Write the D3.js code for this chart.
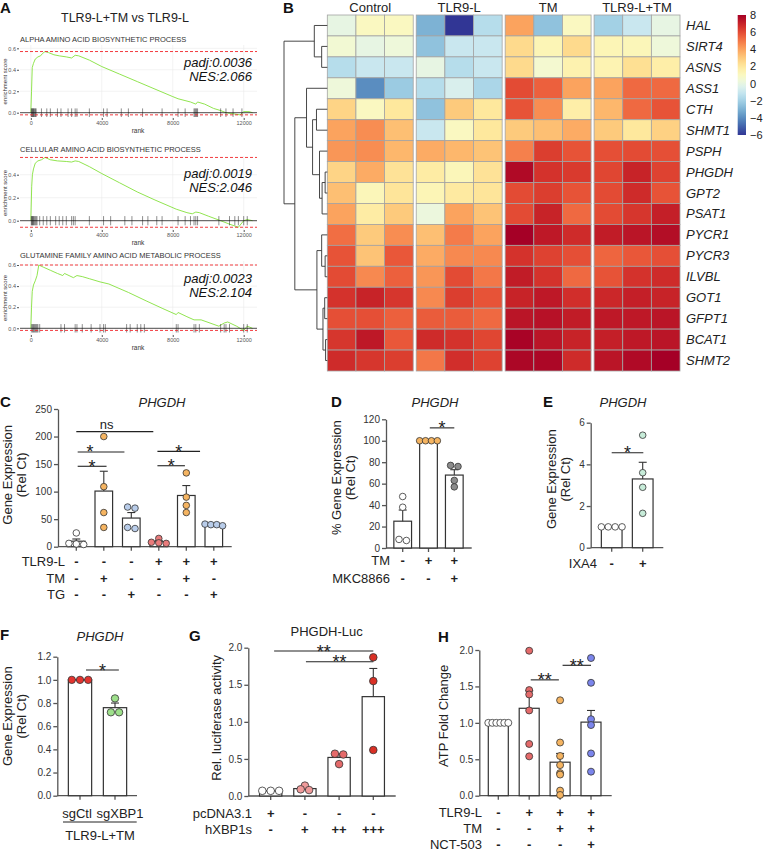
<!DOCTYPE html>
<html>
<head>
<meta charset="utf-8">
<script src="https://cdn.jsdelivr.net/npm/d3@7"></script>
<style>
  body { margin: 0; background: #fff; }
  svg { font-family: "Liberation Sans", Arial, sans-serif; }
</style>
</head>
<body>
<svg id="fig" width="763" height="853"></svg>
<script>
var FONT = "Liberation Sans, Arial, sans-serif"

// ---------- A: GSEA data ----------
var gseaTitles = ["ALPHA AMINO ACID BIOSYNTHETIC PROCESS", "CELLULAR AMINO ACID BIOSYNTHETIC PROCESS", "GLUTAMINE FAMILY AMINO ACID METABOLIC PROCESS"]
var gseaPadj = ["padj:0.0036", "padj:0.0019", "padj:0.0023"]
var gseaNES = ["NES:2.066", "NES:2.046", "NES:2.104"]
var rankTicks = [0, 4000, 8000, 12000]
var esTicks = [0, 0.2, 0.4, 0.6]

var esCurve1 = [[0,0],[40,0.2],[80,0.42],[150,0.46],[250,0.5],[400,0.52],[550,0.53],[650,0.55],[800,0.57],[1000,0.56],[1300,0.54],[1600,0.53],[2000,0.52],[2300,0.51],[2500,0.535],[2700,0.53],[3300,0.49],[4000,0.43],[5000,0.36],[6000,0.29],[7000,0.22],[8000,0.15],[8300,0.13],[9000,0.1],[9300,0.08],[9400,0.1],[9800,0.08],[10300,0.04],[10700,0.02],[11000,0.0],[11400,-0.01],[11800,-0.02],[12000,0.01],[12300,0.01],[12500,0]]
var esCurve2 = [[0,0],[50,0.3],[90,0.4],[150,0.45],[250,0.5],[400,0.52],[600,0.53],[800,0.55],[1100,0.53],[1500,0.52],[2000,0.515],[2300,0.51],[2500,0.52],[2700,0.515],[3300,0.47],[4000,0.41],[5000,0.33],[6000,0.25],[7000,0.18],[8200,0.1],[8800,0.07],[9100,0.06],[9300,0.075],[9500,0.07],[10000,0.04],[10700,0.0],[11200,-0.03],[11700,-0.057],[12000,0.0],[12200,0.01],[12500,0]]
var esCurve3 = [[0,0],[40,0.2],[80,0.35],[150,0.41],[250,0.45],[350,0.5],[450,0.6],[700,0.58],[1100,0.55],[1500,0.52],[1800,0.5],[1900,0.52],[2400,0.48],[2600,0.5],[2900,0.49],[3300,0.47],[3900,0.44],[4400,0.42],[5500,0.34],[6500,0.26],[7400,0.19],[8200,0.13],[8300,0.15],[8800,0.11],[9200,0.08],[9600,0.08],[10100,0.05],[10600,0.02],[10900,0.05],[11100,0.06],[11600,0.02],[12000,-0.02],[12200,0.02],[12500,0]]

var hits1 = [30,60,90,120,150,180,220,260,300,600,900,1100,1500,1700,2100,2300,2500,2600,3300,4100,4300,5100,5500,6300,7400,8300,8700,9200,9250,9300,9350,9400,10700,11000,11400,11900]
var hits2 = [30,60,90,120,150,200,250,300,350,500,700,900,1100,1400,1600,1800,2000,2300,2400,2500,3300,4100,4500,5300,5700,6300,6600,7100,7400,8300,8700,9000,9200,9300,9400,10600,11200,11500,11700,12000,12200]
var hits3 = [50,100,150,200,250,300,350,400,500,1700,1900,2500,2600,2900,3400,3900,4100,4200,5400,5600,6000,6200,6400,8200,8300,9200,9300,9500,10700,10900,11000,11200,12000,12200]

// ---------- B: heatmap data ----------
var groups = ["Control", "TLR9-L", "TM", "TLR9-L+TM"]
var genes = ["HAL","SIRT4","ASNS","ASS1","CTH","SHMT1","PSPH","PHGDH","GPT2","PSAT1","PYCR1","PYCR3","ILVBL","GOT1","GFPT1","BCAT1","SHMT2"]
var heatValues = [
  [0, 1, 1,   -3, -6, -1.5,   4, -2.5, 1,   -2, -1, 0],
  [0.5, 0, 0.3,   -2.5, -1, -1,   2.5, 1.3, 2.5,   1.3, 1.2, 0.3],
  [-1.5, -1, -1,   0, -1.5, -1,   2.5, 0.6, 1.5,   1.4, 2.3, 1.7],
  [0.3, -4, -2.2,   -1.5, -0.5, -1.8,   6, 5.5, 4,   4, 5.3, 5.3],
  [2.7, 1, 2,   -2.5, 3, 2,   5.8, 4.5, 1.7,   3.5, 5.3, 5.8],
  [4, 4.5, 3.3,   -1, 1, 2,   3, 3.3, 3.8,   3, 2, 2.8],
  [4.3, 4.5, 3.5,   3.8, 3.5, 3.2,   4.8, 6.3, 5.8,   5.9, 6, 5.9],
  [2.7, 3.8, 2.2,   1.8, 1.2, 2.2,   7.7, 6.6, 6.4,   6.1, 7, 6.2],
  [3.3, 1.2, 2.1,   1.3, 1.9, 2.1,   6, 6.3, 5.8,   6, 6.8, 5.8],
  [4, 1.8, 3,   0.2, 4, 3.2,   6, 7, 5.3,   6, 6.5, 7.1],
  [5.2, 3, 4.5,   3.3, 4.9, 4,   8, 7.3, 6.8,   7.2, 7.4, 7.6],
  [5.8, 3.2, 5.7,   3.8, 4.6, 4.6,   6.6, 6.2, 5.9,   5.4, 5.7, 5.9],
  [6, 4.6, 5.5,   4.3, 6, 5,   7.2, 6.6, 5.3,   5.8, 6.6, 6.8],
  [6.6, 7, 6.5,   4.6, 6.3, 5.8,   7, 7.3, 6.7,   6.9, 7.1, 7],
  [5.9, 5.9, 5.5,   5.6, 5.6, 5.3,   7.4, 7.5, 7.2,   7.3, 7.3, 7.4],
  [6.5, 7.3, 5.7,   6.8, 6.6, 6.1,   7.9, 7.4, 7,   7.1, 7.3, 7.4],
  [6.8, 6.5, 6.3,   5, 6.7, 6.2,   7.8, 7.8, 6.8,   7.4, 7.7, 8]
]
var colorTicks = [8, 6, 4, 2, 0, -2, -4, -6]
// row dendrogram: [height, left, right], leaves are gene names
var dendro = [10,
  [3.0, "HAL", [1.3, "SIRT4", "ASNS"]],
  [7.5,
    [4.8, "ASS1", [3.4, [2.5, "CTH", "SHMT1"], [1.8, "PSPH", [1.2, [0.5, "PHGDH", "GPT2"], "PSAT1"]]]],
    [2.4, [1.3, "PYCR1", [0.5, "PYCR3", "ILVBL"]], [1.0, [0.6, "GOT1", "GFPT1"], [0.4, "BCAT1", "SHMT2"]]]
  ]
]

// ---------- C ----------
var cMeans = [10, 101, 52, 9, 93, 39]
var cSem = [4, 36, 10, 2, 18, 1.5]
var cPoints = [[25,6,5,4],[200,109,62,35],[72,70,35,33],[15,8,7,6],[134,90,75,62],[41,40,40,38]]
var cColors = ["#ffffff","#f5b461","#b9cdea","#e97b7b","#f5b461","#b9cdea"]
var cRows = ["TLR9-L","TM","TG"]
var cSigns = [["-","-","-","+","+","+"],["-","+","-","-","+","-"],["-","-","+","-","-","+"]]
var cSig = [[0,2.8,209,"ns",1.1],[0.05,1.75,172,"*",0.5],[0.05,1.1,146,"*"],[2.95,4.5,173,"*"],[2.95,3.95,147,"*"]]
var cTicks = [0,50,100,150,200,250]

// ---------- D ----------
var dMeans = [25, 100, 68]
var dSem = [10.4, 0, 5]
var dPoints = [[48,38,8,7],[100,100,100,100],[77,76,63,57]]
var dColors = ["#ffffff","#f5b461","#8c8c8c"]
var dRows = ["TM","MKC8866"]
var dSigns = [["-","+","+"],["-","-","+"]]
var dSig = [[1.05,2,112,"*"]]
var dTicks = [0,20,40,60,80,100,120]

// ---------- E ----------
var eMeans = [1, 3.3]
var eSem = [0, 0.8]
var ePoints = [[1,1,1,1],[5.4,3.6,2.9,1.65]]
var eColors = ["#ffffff","#c7ecd9"]
var eRows = ["IXA4"]
var eSigns = [["-","+"]]
var eSig = [[0,1.02,4.56,"*"]]
var eTicks = [0,2,4,6]

// ---------- F ----------
var fMeans = [1, 0.76]
var fSem = [0, 0.04]
var fPoints = [[1,1,1],[0.84,0.72,0.72]]
var fColors = ["#e3342f","#9ee08b"]
var fLabels = ["sgCtl","sgXBP1"]
var fGroup = "TLR9-L+TM"
var fSig = [[0.17,1.11,1.085,"*"]]
var fTicks = [0,0.2,0.4,0.6,0.8,1.0,1.2]

// ---------- G ----------
var gMeans = [0.07, 0.10, 0.52, 1.34]
var gSem = [0.005, 0.015, 0.05, 0.38]
var gPoints = [[0.07,0.07,0.07],[0.14,0.09,0.08],[0.57,0.56,0.43],[1.87,1.55,0.62]]
var gColors = ["#ffffff","#f09a9a","#e46a6a","#d93025"]
var gRows = ["pcDNA3.1","hXBP1s"]
var gSigns = [["+","-","-","-"],["-","+","++","+++"]]
var gSig = [[0.1,3,1.955,"**"],[1.03,3,1.81,"**"]]
var gTicks = [0,0.5,1.0,1.5,2.0]

// ---------- H ----------
var hMeans = [1, 1.2, 0.46, 1.01]
var hSem = [0, 0.24, 0.12, 0.16]
var hPoints = [[1,1,1,1,1,1],[1.99,1.45,1.39,1.17,0.71,0.54],[1.31,0.73,0.545,0.42,0.31,0.29,0.07,0.01],[1.89,1.55,1.05,0.97,0.58,0.33]]
var hColors = ["#ffffff","#e46a6a","#f5b461","#7b85ec"]
var hRows = ["TLR9-L","TM","NCT-503"]
var hSigns = [["-","+","+","+"],["-","-","+","+"],["-","-","-","+"]]
var hSig = [[1.05,1.96,1.59,"**"],[2.08,3,1.79,"**"]]
var hTicks = [0,0.5,1.0,1.5,2.0]

var svg = d3.select("#fig")

function letter(t, x, y){
  svg.append("text").attr("x", x).attr("y", y).attr("font-size", 15).attr("font-weight", "bold").attr("fill", "#111").text(t)
}

// ================= Panel A =================
letter("A", 0, 13)
svg.append("text").attr("x", 125).attr("y", 22).attr("text-anchor", "middle").attr("font-size", 12.5).attr("fill", "#222").text("TLR9-L+TM vs TLR9-L")

var gseaBoxes = [
  {top: 45, bottom: 118, zero: 112.7, ppu: 107.3, titleY: 42},
  {top: 156, bottom: 230, zero: 220.7, ppu: 115, titleY: 152},
  {top: 261, bottom: 335, zero: 328.3, ppu: 105.5, titleY: 258}
]
var gseaCurves = [esCurve1, esCurve2, esCurve3]
var gseaHits = [hits1, hits2, hits3]

gseaBoxes.forEach(function(box, i){
  var curve = gseaCurves[i]
  var x = d3.scaleLinear().domain([-610, 12750]).range([20, 257])
  var y = d3.scaleLinear().domain([0, 1]).range([box.zero, box.zero - box.ppu])
  var g = svg.append("g")
  var yt = esTicks.filter(v => y(v) >= box.top - 0.5)

  g.selectAll(".gx").data(rankTicks).enter().append("line")
    .attr("x1", d => x(d)).attr("x2", d => x(d)).attr("y1", box.top).attr("y2", box.bottom)
    .attr("stroke", "#ebebeb").attr("stroke-width", 0.6)
  g.selectAll(".gy").data(yt).enter().append("line")
    .attr("x1", 20).attr("x2", 257).attr("y1", d => y(d)).attr("y2", d => y(d))
    .attr("stroke", "#ebebeb").attr("stroke-width", 0.6)

  g.append("path").datum(curve)
    .attr("d", d3.line().x(d => x(d[0])).y(d => y(d[1])))
    .attr("fill", "none").attr("stroke", "#84e13c").attr("stroke-width", 0.9)

  g.append("line").attr("x1", 20).attr("x2", 257).attr("y1", y(0)).attr("y2", y(0))
    .attr("stroke", "#222").attr("stroke-width", 0.8)
  g.selectAll(".hit").data(gseaHits[i]).enter().append("line")
    .attr("x1", d => x(d)).attr("x2", d => x(d)).attr("y1", y(0.04)).attr("y2", y(-0.04))
    .attr("stroke", "#111").attr("stroke-width", 0.6).attr("stroke-opacity", 0.8)
  var esMax = d3.max(curve, d => d[1]), esMin = d3.min(curve, d => d[1])
  g.selectAll(".red").data([esMax, esMin]).enter().append("line")
    .attr("x1", 20).attr("x2", 257).attr("y1", d => y(d)).attr("y2", d => y(d))
    .attr("stroke", "#f0262a").attr("stroke-width", 0.9).attr("stroke-dasharray", "3,2")

  var ay = g.append("g").attr("transform", "translate(19,0)")
    .call(d3.axisLeft(y).tickValues(yt).tickFormat(d3.format(".1f")).tickSize(2).tickPadding(1))
  var ax = g.append("g").attr("transform", "translate(0," + box.bottom + ")")
    .call(d3.axisBottom(x).tickValues(rankTicks).tickFormat(d3.format("d")).tickSize(2).tickPadding(1))
  ;[ay, ax].forEach(function(a){
    a.select(".domain").remove()
    a.attr("font-family", FONT).attr("font-size", 5.5)
    a.selectAll("line").attr("stroke", "#555")
    a.selectAll("text").attr("fill", "#555")
  })
  g.append("text").attr("x", 138).attr("y", box.bottom + 15).attr("text-anchor", "middle")
    .attr("font-size", 6.5).attr("fill", "#333").text("rank")
  g.append("text").attr("transform", "translate(7," + ((box.top + box.bottom) / 2) + ") rotate(-90)")
    .attr("text-anchor", "middle").attr("font-size", 6).attr("fill", "#333").text("enrichment score")
  g.append("text").attr("x", 20).attr("y", box.titleY).attr("font-size", 7.5).attr("fill", "#333").text(gseaTitles[i])
  g.append("text").attr("x", 252).attr("y", box.top + 22).attr("text-anchor", "end")
    .attr("font-size", 13).attr("font-style", "italic").attr("fill", "#111").text(gseaPadj[i])
  g.append("text").attr("x", 252).attr("y", box.top + 36).attr("text-anchor", "end")
    .attr("font-size", 13).attr("font-style", "italic").attr("fill", "#111").text(gseaNES[i])
})

// ================= Panel B =================
letter("B", 283, 13)
var heatColor = d3.scaleSequential(t => d3.interpolateRdYlBu(1 - t)).domain([-6, 8])
var rowY = d3.scaleBand().domain(genes).range([15, 371])
var groupX = d3.scaleBand().domain(groups).range([327.3, 680]).paddingInner(0.034)
var colX = d3.scaleBand().domain([0, 1, 2]).range([0, groupX.bandwidth()])

var hm = svg.append("g")
genes.forEach(function(gene, r){
  heatValues[r].forEach(function(v, c){
    var grp = groups[Math.floor(c / 3)]
    hm.append("rect")
      .attr("x", groupX(grp) + colX(c % 3)).attr("y", rowY(gene))
      .attr("width", colX.bandwidth()).attr("height", rowY.bandwidth())
      .attr("fill", heatColor(v)).attr("stroke", "#a3a3a3").attr("stroke-width", 0.8)
  })
})
hm.selectAll(".gh").data(groups).enter().append("text")
  .attr("x", d => groupX(d) + groupX.bandwidth() / 2).attr("y", 12)
  .attr("text-anchor", "middle").attr("font-size", 13).attr("fill", "#222").text(d => d)
hm.selectAll(".gn").data(genes).enter().append("text")
  .attr("x", 686).attr("y", d => rowY(d) + rowY.bandwidth() / 2 + 4.5)
  .attr("font-size", 13).attr("font-style", "italic").attr("fill", "#222").text(d => d)

// dendrogram
var hx = d3.scaleLinear().domain([0, 10]).range([327.3, 284])
var dg = svg.append("g").attr("fill", "none").attr("stroke", "#333").attr("stroke-width", 0.9)
function drawDendro(node){
  if (typeof node === "string") return {x: hx(0), y: rowY(node) + rowY.bandwidth() / 2}
  var a = drawDendro(node[1]), b = drawDendro(node[2]), xh = hx(node[0])
  dg.append("path").attr("d", "M" + a.x + "," + a.y + "H" + xh + "V" + b.y + "H" + b.x)
  return {x: xh, y: (a.y + b.y) / 2}
}
drawDendro(dendro)

// colour bar
var cbY = d3.scaleLinear().domain([-6, 8]).range([135, 15])
var grad = svg.append("defs").append("linearGradient").attr("id", "cb")
  .attr("x1", 0).attr("x2", 0).attr("y1", 1).attr("y2", 0)
grad.selectAll("stop").data(d3.range(0, 1.0001, 0.05)).enter().append("stop")
  .attr("offset", d => d).attr("stop-color", d => heatColor(-6 + 14 * d))
svg.append("rect").attr("x", 737.7).attr("y", cbY(8)).attr("width", 8.3).attr("height", cbY(-6) - cbY(8)).attr("fill", "url(#cb)")
var cbAxis = svg.append("g").attr("transform", "translate(746,0)")
  .call(d3.axisRight(cbY).tickValues(colorTicks).tickSize(0).tickPadding(4))
cbAxis.select(".domain").remove()
cbAxis.attr("font-family", FONT).attr("font-size", 11)
cbAxis.selectAll("text").attr("fill", "#222")

// ================= bar panels =================
function beeswarm(vals, y, r, maxSpan){
  var pts = vals.map(v => ({v: v, py: y(v)})).sort((a, b) => a.py - b.py)
  var out = [], cluster = []
  function flush(){
    var k = cluster.length
    var d = k > 1 ? Math.min(2 * r + 0.8, maxSpan / (k - 1)) : 0
    cluster.forEach((p, i) => out.push({v: p.v, py: p.py, dx: (i - (k - 1) / 2) * d}))
    cluster = []
  }
  pts.forEach(function(p){
    if (cluster.length && p.py - cluster[cluster.length - 1].py > 1.2) flush()
    cluster.push(p)
  })
  flush()
  return out
}

function barPanel(p){
  var n = p.means.length
  var pad = 1 - p.bw / p.step
  var x = d3.scaleBand().domain(d3.range(n))
    .range([p.c0 - p.step / 2, p.c0 + p.step * (n - 0.5)])
    .paddingInner(pad).paddingOuter(pad / 2)
  var cx = i => x(0) + x.bandwidth() / 2 + i * x.step()
  var y = d3.scaleLinear().domain([0, p.ymax]).range([p.y0, p.y1])
  var g = svg.append("g")

  var ay = g.append("g").attr("transform", "translate(" + p.ax + ",0)")
    .call(d3.axisLeft(y).tickValues(p.ticks).tickFormat(d3.format(p.fmt)).tickSize(4).tickSizeOuter(0).tickPadding(2))
  var axb = g.append("g").attr("transform", "translate(0," + p.y0 + ")")
    .call(d3.axisBottom(x).tickSize(4).tickSizeOuter(0).tickFormat(""))
  axb.select(".domain").remove()
  g.append("line").attr("x1", p.ax).attr("x2", p.axEnd).attr("y1", p.y0).attr("y2", p.y0)
    .attr("stroke", "#555").attr("stroke-width", 1.3)
  ;[ay, axb].forEach(function(a){
    a.attr("font-family", FONT).attr("font-size", 10)
    a.selectAll("path, line").attr("stroke", "#555").attr("stroke-width", 1.3)
    a.selectAll("text").attr("fill", "#333")
  })

  g.selectAll(".bar").data(p.means).enter().append("rect")
    .attr("x", (d, i) => x(i)).attr("y", d => y(d))
    .attr("width", x.bandwidth()).attr("height", d => y(0) - y(d))
    .attr("fill", "#fff").attr("stroke", "#333").attr("stroke-width", 1.2)

  p.means.forEach(function(m, i){
    if (!p.sem[i]) return
    var top = y(m + p.sem[i])
    g.append("line").attr("x1", cx(i)).attr("x2", cx(i)).attr("y1", y(m)).attr("y2", top)
      .attr("stroke", "#333").attr("stroke-width", 1.1)
    g.append("line").attr("x1", cx(i) - 4).attr("x2", cx(i) + 4).attr("y1", top).attr("y2", top)
      .attr("stroke", "#333").attr("stroke-width", 1.1)
  })

  p.points.forEach(function(vals, i){
    g.selectAll(".pt" + i).data(beeswarm(vals, y, p.r, x.bandwidth())).enter().append("circle")
      .attr("cx", d => cx(i) + d.dx).attr("cy", d => d.py).attr("r", p.r)
      .attr("fill", p.colors[i]).attr("stroke", "#333").attr("stroke-width", 0.8)
  })

  p.sig.forEach(function(s){
    var ly = y(s[2])
    g.append("line").attr("x1", cx(s[0])).attr("x2", cx(s[1])).attr("y1", ly).attr("y2", ly)
      .attr("stroke", "#222").attr("stroke-width", 1.1)
    var tx = s.length > 4 ? cx(s[4]) : (cx(s[0]) + cx(s[1])) / 2
    var isNs = s[3] === "ns"
    g.append("text").attr("x", tx).attr("y", isNs ? ly - 2.5 : ly + 6.5).attr("text-anchor", "middle")
      .attr("font-size", isNs ? 13 : 18).attr("fill", "#222").text(s[3])
  })

  if (p.rows) p.rows.forEach(function(name, r){
    var ry = p.y0 + p.rowStart + r * p.rowGap
    g.append("text").attr("x", p.labelRight).attr("y", ry).attr("text-anchor", "end")
      .attr("font-size", 13).attr("fill", "#222").text(name)
    g.selectAll(".sg" + r).data(p.signs[r]).enter().append("text")
      .attr("x", (d, i) => cx(i)).attr("y", ry).attr("text-anchor", "middle")
      .attr("font-size", 13).attr("font-weight", "bold").attr("fill", "#222").text(d => d)
  })

  if (p.title) g.append("text").attr("x", p.title[1]).attr("y", p.title[2]).attr("text-anchor", "middle")
    .attr("font-size", 13).attr("font-style", p.title[3] ? "italic" : "normal").attr("fill", "#222").text(p.title[0])

  var cyl = (y(0) + y(p.ymax)) / 2 + p.ylabShift
  p.ylab.forEach(function(t, k){
    g.append("text").attr("transform", "translate(" + p.ylabX[k] + "," + cyl + ") rotate(-90)")
      .attr("text-anchor", "middle").attr("font-size", 13).attr("fill", "#222").text(t)
  })
  return {x: x, y: y, cx: cx, g: g}
}

// C
letter("C", 0, 407)
barPanel({means: cMeans, sem: cSem, points: cPoints, colors: cColors, sig: cSig, ticks: cTicks, fmt: "d",
  ax: 58, axEnd: 231.7, c0: 76.3, step: 27.5, bw: 17.6, y0: 546.7, y1: 409, ymax: 250, r: 3.3,
  rows: cRows, signs: cSigns, labelRight: 65, rowStart: 19.5, rowGap: 16.6,
  title: ["PHGDH", 162, 407, true], ylab: ["Gene Expression", "(Rel Ct)"], ylabX: [12, 26], ylabShift: -3})

// D
letter("D", 331, 407)
barPanel({means: dMeans, sem: dSem, points: dPoints, colors: dColors, sig: dSig, ticks: dTicks, fmt: "d",
  ax: 386, axEnd: 471.7, c0: 402.7, step: 25.8, bw: 17.7, y0: 548, y1: 419.3, ymax: 120, r: 3.3,
  rows: dRows, signs: dSigns, labelRight: 390, rowStart: 16.5, rowGap: 18.5,
  title: ["PHGDH", 435, 407, true], ylab: ["% Gene Expression", "(Rel Ct)"], ylabX: [341, 355], ylabShift: -6})

// E
letter("E", 543, 407)
barPanel({means: eMeans, sem: eSem, points: ePoints, colors: eColors, sig: eSig, ticks: eTicks, fmt: "d",
  ax: 590.7, axEnd: 663.3, c0: 611.7, step: 31, bw: 20.7, y0: 547.7, y1: 422.7, ymax: 6, r: 3.3,
  rows: eRows, signs: eSigns, labelRight: 597, rowStart: 20, rowGap: 17,
  title: ["PHGDH", 623, 407, true], ylab: ["Gene Expression", "(Rel Ct)"], ylabX: [555.5, 570], ylabShift: -6})

// F
letter("F", 0, 640)
var fp = barPanel({means: fMeans, sem: fSem, points: fPoints, colors: fColors, sig: fSig, ticks: fTicks, fmt: ".1f",
  ax: 57.3, axEnd: 137, c0: 80, step: 35, bw: 23.3, y0: 795.7, y1: 656.7, ymax: 1.2, r: 3.7,
  title: ["PHGDH", 100, 641, true], ylab: ["Gene Expression", "(Rel Ct)"], ylabX: [12, 26], ylabShift: -10})
fp.g.selectAll(".fl").data(fLabels).enter().append("text")
  .attr("x", (d, i) => fp.cx(i) + (i ? 5 : -3)).attr("y", 818).attr("text-anchor", "middle")
  .attr("font-size", 13).attr("fill", "#222").text(d => d)
fp.g.append("line").attr("x1", 63).attr("x2", 136.7).attr("y1", 822).attr("y2", 822).attr("stroke", "#222").attr("stroke-width", 1)
fp.g.append("text").attr("x", 100).attr("y", 839.5).attr("text-anchor", "middle").attr("font-size", 13).attr("fill", "#222").text(fGroup)

// G
letter("G", 189, 641)
barPanel({means: gMeans, sem: gSem, points: gPoints, colors: gColors, sig: gSig, ticks: gTicks, fmt: ".1f",
  ax: 248.3, axEnd: 395.7, c0: 270.7, step: 34.2, bw: 22.3, y0: 796, y1: 647.7, ymax: 2, r: 3.8,
  rows: gRows, signs: gSigns, labelRight: 252, rowStart: 21.5, rowGap: 16.5,
  title: ["PHGDH-Luc", 326.7, 636, false], ylab: ["Rel. luciferase activity"], ylabX: [221], ylabShift: -4})

// H
letter("H", 438, 642)
barPanel({means: hMeans, sem: hSem, points: hPoints, colors: hColors, sig: hSig, ticks: hTicks, fmt: ".1f",
  ax: 479.3, axEnd: 611.7, c0: 498.3, step: 30.9, bw: 20, y0: 795.7, y1: 650, ymax: 2, r: 3.5,
  rows: hRows, signs: hSigns, labelRight: 482, rowStart: 21, rowGap: 16,
  title: null, ylab: ["ATP Fold Change"], ylabX: [448], ylabShift: -7})
</script>
</body>
</html>
